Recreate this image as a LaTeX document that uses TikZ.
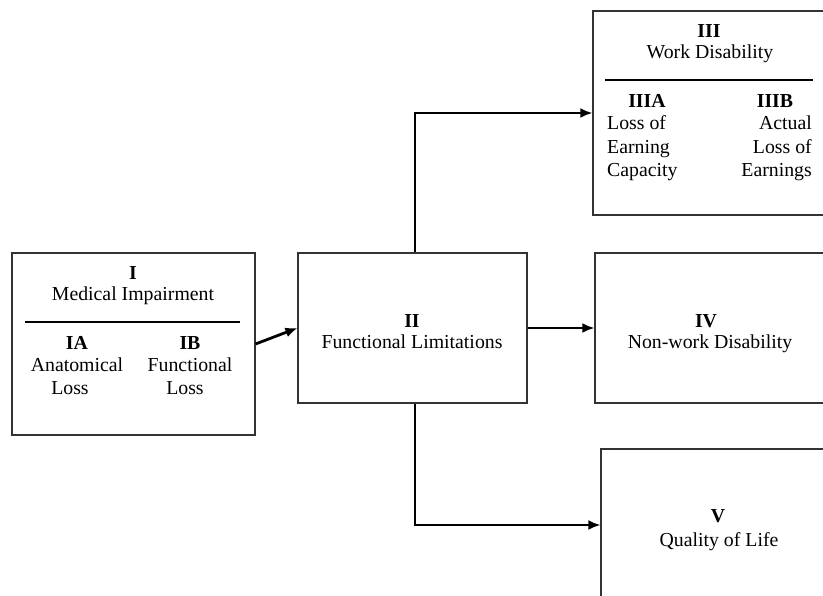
\documentclass[tikz,border=0pt]{standalone}
\usepackage{fontspec}
\setmainfont{Liberation Serif}
\usetikzlibrary{arrows.meta}
\begin{document}
\begin{tikzpicture}[x=1pt,y=-1pt,
  box/.style={draw=black!80, line width=1.1pt, rectangle, inner sep=0pt},
  conn/.style={line width=2.8pt, -{Latex[length=12pt,width=10pt]}},
  txt/.style={font=\fontsize{19.8}{23}\selectfont, inner sep=0pt, text height=14pt, text depth=4pt, yshift=-3pt},
  hd/.style={txt, font=\fontsize{19.8}{23}\selectfont\bfseries},
  divider/.style={line width=1.8pt}]
\useasboundingbox (0,0) rectangle (823,596);
\clip (0,0) rectangle (823,596);
% boxes
\node[box, minimum width=243pt, minimum height=182pt] (bI) at (133.5,344) {};
\node[box, minimum width=229pt, minimum height=150pt] (bII) at (412.5,328) {};
\node[box, minimum width=247pt, minimum height=204pt] (bIII) at (716.5,113) {};
\node[box, minimum width=245pt, minimum height=150pt] (bIV) at (717.5,328) {};
\node[box, minimum width=239pt, minimum height=191pt] (bV) at (720.5,544.5) {};
% box I text
\node[hd] (tI) at (133,272) {I};
\node[txt] (tMI) at (133,293) {Medical Impairment};
\coordinate (dIa) at (25,322);
\coordinate (dIb) at (240,322);
\draw[divider] (dIa) -- (dIb);
\node[hd] (tIA) at (77,342) {IA};
\node[txt] (tAn) at (77,364) {Anatomical};
\node[txt] (tL1) at (70,387) {Loss};
\node[hd] (tIB) at (190,342) {IB};
\node[txt] (tFu) at (190,364) {Functional};
\node[txt] (tL2) at (185,387) {Loss};
% box II text
\node[hd] (tII) at (412,320) {II};
\node[txt] (tFL) at (412,341) {Functional Limitations};
% box III text
\node[hd] (tIII) at (709,30) {III};
\node[txt] (tWD) at (710,51) {Work Disability};
\coordinate (dIIIa) at (605,80);
\coordinate (dIIIb) at (813,80);
\draw[divider] (dIIIa) -- (dIIIb);
\node[hd] (tIIIA) at (647,100) {IIIA};
\node[txt, anchor=west] (tLo) at (607,122) {Loss of};
\node[txt, anchor=west] (tEa) at (607,146) {Earning};
\node[txt, anchor=west] (tCa) at (607,169) {Capacity};
\node[hd] (tIIIB) at (775,100) {IIIB};
\node[txt, anchor=east] (tAc) at (812,122) {Actual};
\node[txt, anchor=east] (tLo2) at (812,146) {Loss of};
\node[txt, anchor=east] (tEa2) at (812,169) {Earnings};
% box IV text
\node[hd] (tIV) at (706,320) {IV};
\node[txt] (tNW) at (710,341) {Non-work Disability};
% box V text
\node[hd] (tV) at (718,514) {V};
\node[txt] (tQL) at (719,538) {Quality of Life};
% connectors
\draw[conn] (bI.east) -- (bII.west);
\draw[conn] (bII.east) -- (bIV.west);
\draw[conn] ([xshift=2.5pt]bII.north) |- (bIII.west);
\draw[conn] ([xshift=2.5pt]bII.south) |- ([yshift=19.5pt]bV.west);
\end{tikzpicture}
\end{document}
